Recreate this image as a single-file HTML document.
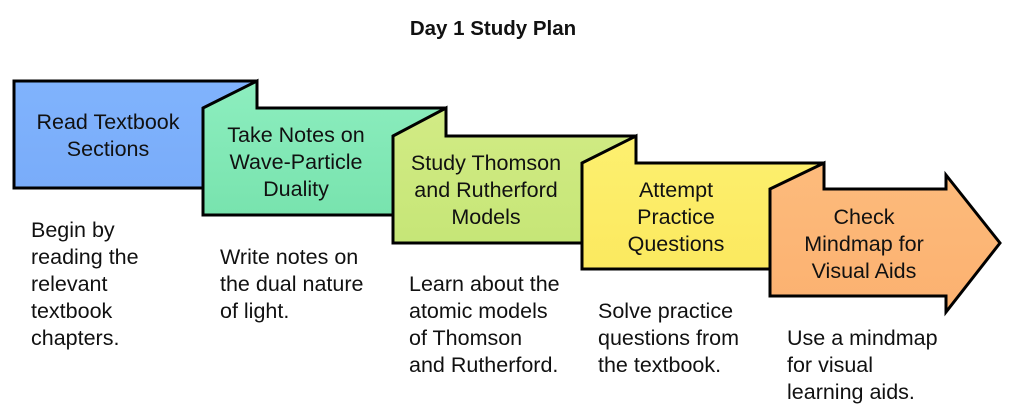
<!DOCTYPE html>
<html><head><meta charset="utf-8"><style>
html,body{margin:0;padding:0;background:#fff;}
svg{display:block;}
text{font-family:"Liberation Sans",sans-serif;fill:#111;}
.l{font-size:21.5px;text-anchor:middle;}
.d{font-size:21.5px;}
</style></head><body>
<svg width="1015" height="419" viewBox="0 0 1015 419">
<defs>
<linearGradient id="g1" x1="0" y1="0" x2="0" y2="1"><stop offset="0" stop-color="#80b3fd"/><stop offset="1" stop-color="#79acf9"/></linearGradient>
<linearGradient id="g2" x1="0" y1="0" x2="0" y2="1"><stop offset="0" stop-color="#8deebf"/><stop offset="1" stop-color="#78e3ae"/></linearGradient>
<linearGradient id="g3" x1="0" y1="0" x2="0" y2="1"><stop offset="0" stop-color="#d2eb85"/><stop offset="1" stop-color="#c6e677"/></linearGradient>
<linearGradient id="g4" x1="0" y1="0" x2="0" y2="1"><stop offset="0" stop-color="#fdf070"/><stop offset="1" stop-color="#fbe95f"/></linearGradient>
<linearGradient id="g5" x1="0" y1="0" x2="0" y2="1"><stop offset="0" stop-color="#fdbb7c"/><stop offset="1" stop-color="#fbb170"/></linearGradient>
</defs>
<text x="493" y="35" style="font-size:20.5px;font-weight:bold;text-anchor:middle">Day 1 Study Plan</text>
<g stroke="#000" stroke-width="3" stroke-linejoin="miter">
<polygon points="14,81 257,81 257,188 14,188" fill="url(#g1)"/>
<polygon points="203,108 257,81 257,108 446,108 446,215 203,215" fill="url(#g2)"/>
<polygon points="393,136 446,108 446,136 636,136 636,243 393,243" fill="url(#g3)"/>
<polygon points="582,163 636,136 636,163 824,163 824,269 582,269" fill="url(#g4)"/>
<polygon points="770,189 824,163 824,189 946,189 946,175 1000,243 946,312 946,296 770,296" fill="url(#g5)"/>
</g>
<text class="l" x="108" y="129">Read Textbook</text>
<text class="l" x="108" y="156">Sections</text>
<text class="l" x="296" y="142">Take Notes on</text>
<text class="l" x="296" y="169">Wave-Particle</text>
<text class="l" x="296" y="196">Duality</text>
<text class="l" x="486" y="170">Study Thomson</text>
<text class="l" x="486" y="197">and Rutherford</text>
<text class="l" x="486" y="224">Models</text>
<text class="l" x="676" y="197">Attempt</text>
<text class="l" x="676" y="224">Practice</text>
<text class="l" x="676" y="251">Questions</text>
<text class="l" x="864" y="224">Check</text>
<text class="l" x="864" y="251">Mindmap for</text>
<text class="l" x="864" y="278">Visual Aids</text>
<text class="d" x="31" y="237">Begin by</text>
<text class="d" x="31" y="264">reading the</text>
<text class="d" x="31" y="291">relevant</text>
<text class="d" x="31" y="318">textbook</text>
<text class="d" x="31" y="345">chapters.</text>
<text class="d" x="220" y="264">Write notes on</text>
<text class="d" x="220" y="291">the dual nature</text>
<text class="d" x="220" y="318">of light.</text>
<text class="d" x="409" y="291">Learn about the</text>
<text class="d" x="409" y="318">atomic models</text>
<text class="d" x="409" y="345">of Thomson</text>
<text class="d" x="409" y="372">and Rutherford.</text>
<text class="d" x="598" y="318">Solve practice</text>
<text class="d" x="598" y="345">questions from</text>
<text class="d" x="598" y="372">the textbook.</text>
<text class="d" x="787" y="345">Use a mindmap</text>
<text class="d" x="787" y="372">for visual</text>
<text class="d" x="787" y="399">learning aids.</text>
</svg>
</body></html>
